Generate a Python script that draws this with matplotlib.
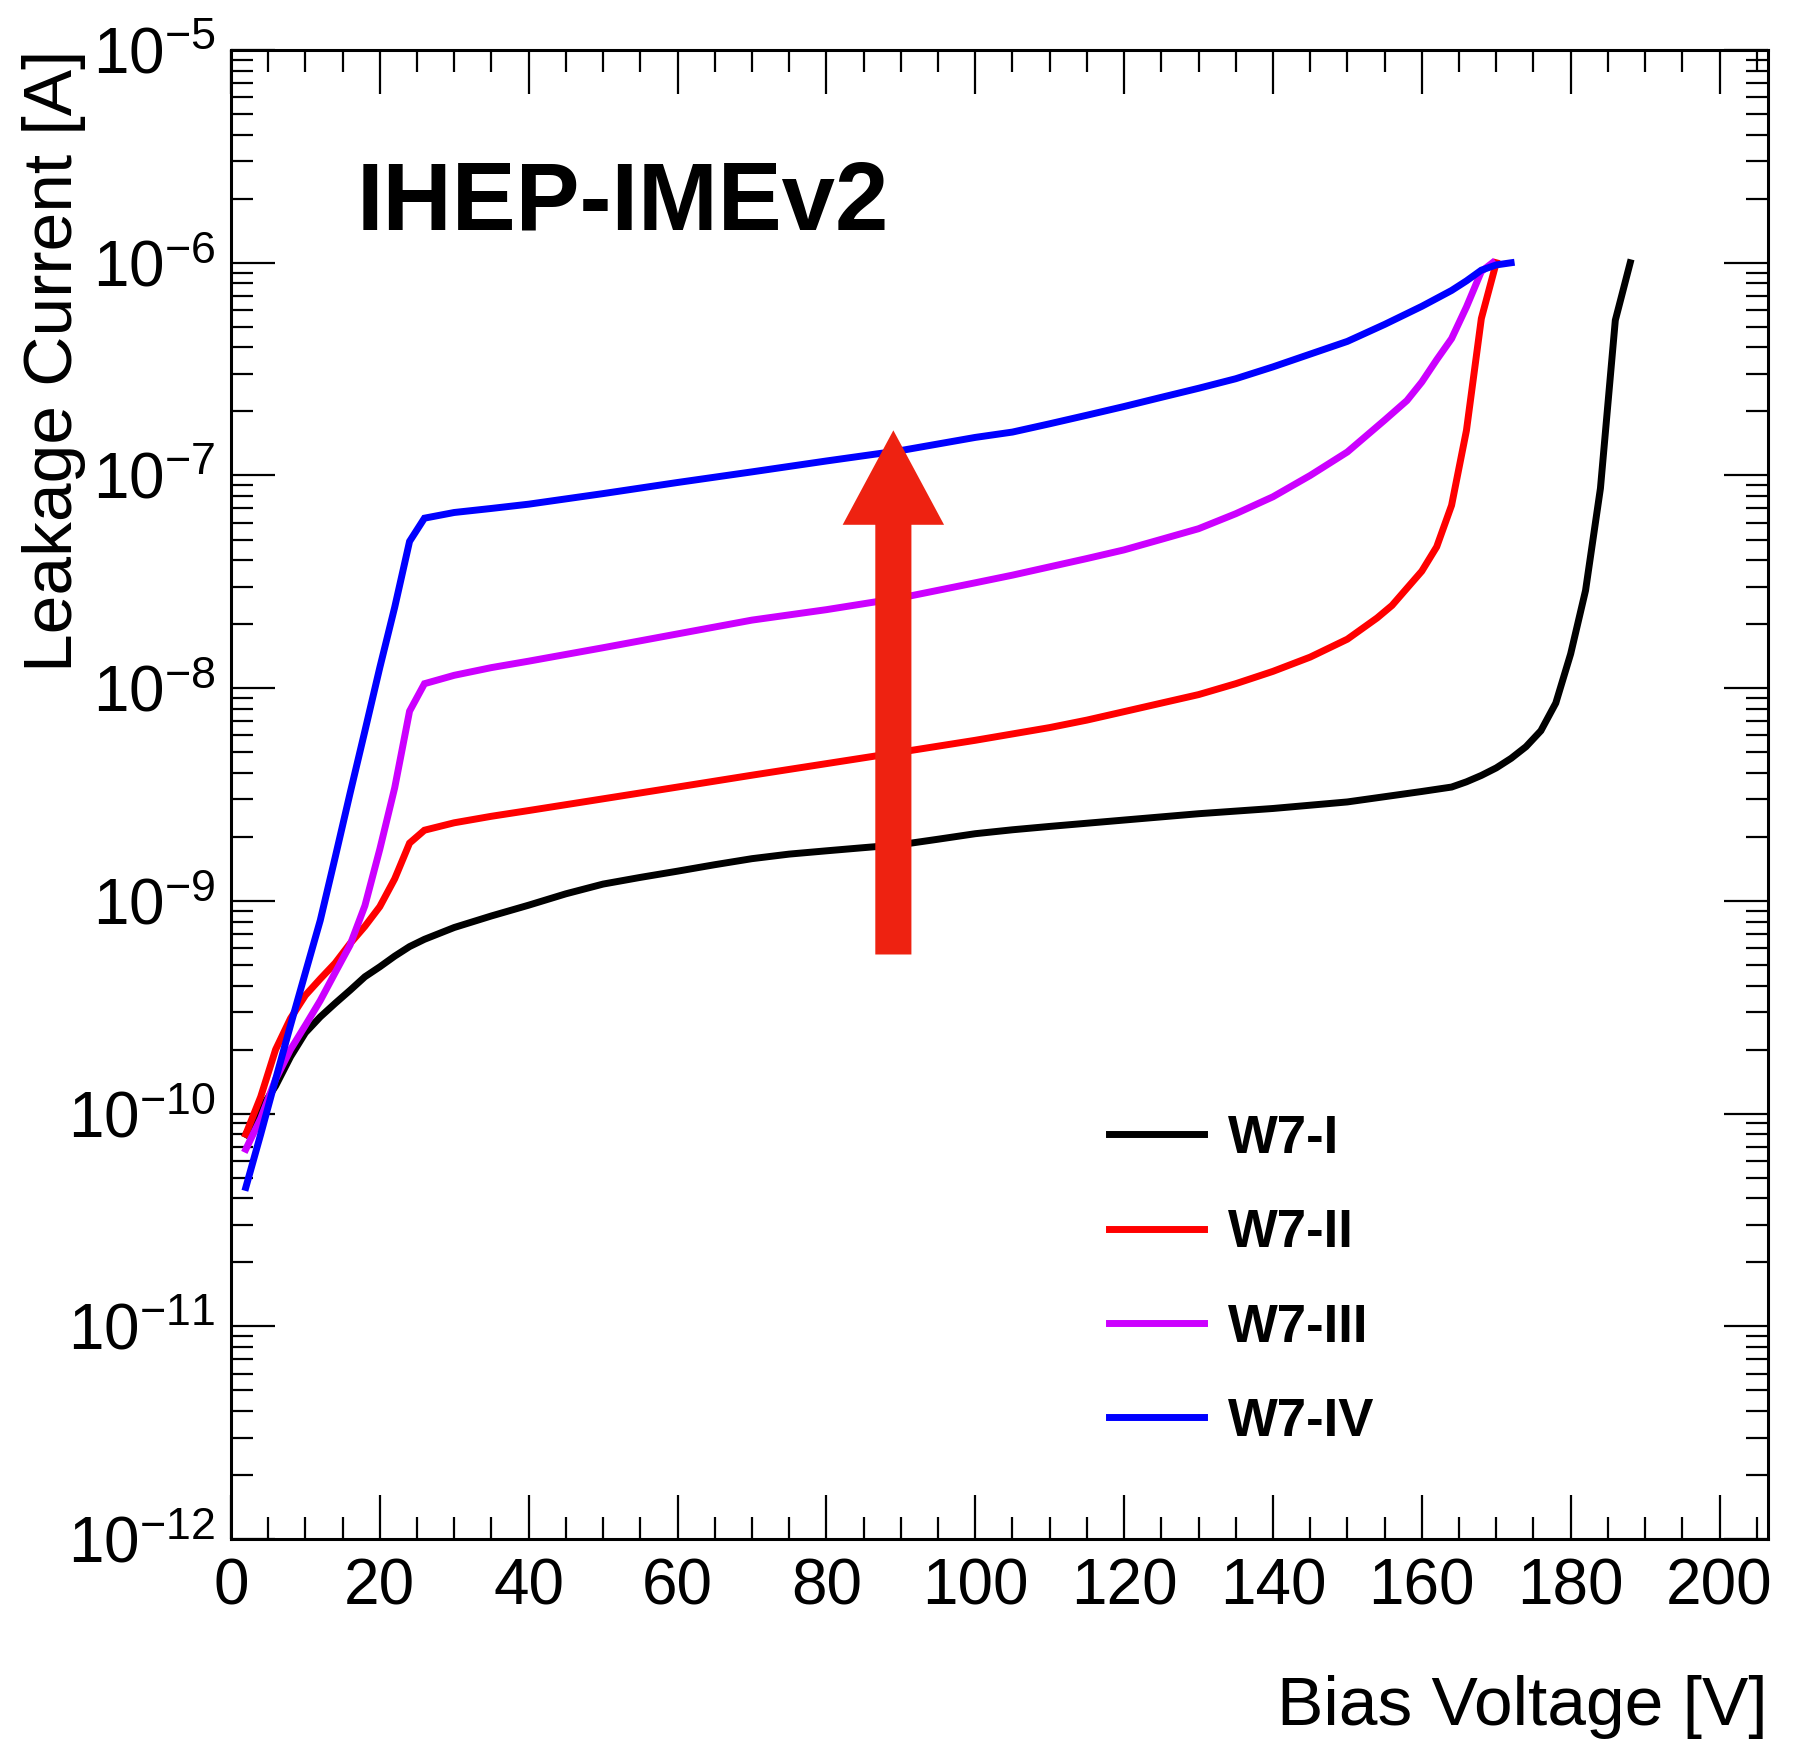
import numpy as np
import matplotlib
matplotlib.use("Agg")
import matplotlib.pyplot as plt
from matplotlib.patches import FancyArrowPatch
from matplotlib.ticker import MultipleLocator, LogLocator, NullFormatter

plt.rcParams["font.family"] = ["Liberation Sans", "DejaVu Sans"]
plt.rcParams["mathtext.fontset"] = "custom"
plt.rcParams["mathtext.rm"] = "Liberation Sans"
plt.rcParams["mathtext.it"] = "Liberation Sans:italic"
plt.rcParams["mathtext.bf"] = "Liberation Sans:bold"

# bias voltage [V] and leakage current [A] per sensor
v_w7_1 = [2, 4, 6, 8, 10, 12, 14, 16, 18, 20, 22, 24, 26, 30, 35, 40, 45, 50, 55, 60,
          65, 70, 75, 80, 85, 90, 95, 100, 105, 110, 120, 130, 140, 150, 155, 160,
          164, 166, 168, 170, 172, 174, 176, 178, 180, 182, 184, 186, 188]
i_w7_1 = [8e-11, 1.05e-10, 1.35e-10, 1.85e-10, 2.4e-10, 2.85e-10, 3.3e-10, 3.8e-10,
          4.4e-10, 4.9e-10, 5.5e-10, 6.1e-10, 6.6e-10, 7.5e-10, 8.5e-10, 9.55e-10,
          1.08e-9, 1.2e-9, 1.29e-9, 1.38e-9, 1.48e-9, 1.58e-9, 1.66e-9, 1.72e-9,
          1.78e-9, 1.84e-9, 1.95e-9, 2.07e-9, 2.16e-9, 2.24e-9, 2.4e-9, 2.57e-9,
          2.72e-9, 2.92e-9, 3.09e-9, 3.27e-9, 3.43e-9, 3.63e-9, 3.89e-9, 4.22e-9,
          4.68e-9, 5.31e-9, 6.31e-9, 8.51e-9, 1.45e-8, 2.88e-8, 8.7e-8, 5.37e-7, 1e-6]

v_w7_2 = [2, 4, 6, 8, 10, 12, 14, 16, 18, 20, 22, 24, 26, 30, 35, 40, 50, 60, 70, 80,
          90, 100, 110, 115, 120, 125, 130, 135, 140, 145, 150, 154, 156, 158, 160,
          162, 164, 166, 168, 170]
i_w7_2 = [8e-11, 1.2e-10, 2.0e-10, 2.8e-10, 3.6e-10, 4.3e-10, 5.1e-10, 6.3e-10,
          7.6e-10, 9.4e-10, 1.27e-9, 1.87e-9, 2.15e-9, 2.33e-9, 2.5e-9, 2.66e-9,
          3.02e-9, 3.43e-9, 3.9e-9, 4.42e-9, 5.01e-9, 5.69e-9, 6.53e-9, 7.08e-9,
          7.76e-9, 8.51e-9, 9.33e-9, 1.05e-8, 1.2e-8, 1.4e-8, 1.7e-8, 2.14e-8,
          2.45e-8, 2.95e-8, 3.55e-8, 4.62e-8, 7.24e-8, 1.63e-7, 5.47e-7, 1e-6]

v_w7_3 = [2, 4, 6, 8, 10, 12, 14, 16, 18, 20, 22, 24, 26, 30, 35, 40, 50, 60, 70, 80,
          90, 100, 105, 110, 115, 120, 125, 130, 135, 140, 145, 150, 155, 158, 160,
          162, 164, 166, 168, 169.5]
i_w7_3 = [6.8e-11, 9.5e-11, 1.45e-10, 2.0e-10, 2.6e-10, 3.4e-10, 4.6e-10, 6.2e-10,
          9.5e-10, 1.75e-9, 3.4e-9, 7.8e-9, 1.05e-8, 1.15e-8, 1.25e-8, 1.34e-8,
          1.55e-8, 1.8e-8, 2.09e-8, 2.34e-8, 2.66e-8, 3.13e-8, 3.4e-8, 3.72e-8,
          4.07e-8, 4.47e-8, 5.01e-8, 5.62e-8, 6.61e-8, 7.94e-8, 1.0e-7, 1.29e-7,
          1.82e-7, 2.25e-7, 2.75e-7, 3.5e-7, 4.4e-7, 6.2e-7, 9.1e-7, 1e-6]

v_w7_4 = [2, 4, 6, 8, 10, 12, 14, 16, 18, 20, 22, 24, 26, 30, 35, 40, 50, 60, 70, 80,
          90, 100, 105, 110, 115, 120, 125, 130, 135, 140, 145, 150, 155, 160, 164,
          166, 168, 170, 172]
i_w7_4 = [4.5e-11, 8.0e-11, 1.45e-10, 2.6e-10, 4.6e-10, 8.1e-10, 1.6e-9, 3.2e-9,
          6.3e-9, 1.25e-8, 2.4e-8, 4.9e-8, 6.3e-8, 6.7e-8, 7.0e-8, 7.33e-8, 8.22e-8,
          9.27e-8, 1.04e-7, 1.17e-7, 1.31e-7, 1.51e-7, 1.6e-7, 1.75e-7, 1.92e-7,
          2.11e-7, 2.33e-7, 2.57e-7, 2.85e-7, 3.24e-7, 3.72e-7, 4.27e-7, 5.13e-7,
          6.24e-7, 7.41e-7, 8.22e-7, 9.23e-7, 9.77e-7, 1e-6]

labels = ["W7-I", "W7-II", "W7-III", "W7-IV"]
colors = ["#000000", "#ff0000", "#cc00ff", "#0000ff"]
voltages = [v_w7_1, v_w7_2, v_w7_3, v_w7_4]
currents = [i_w7_1, i_w7_2, i_w7_3, i_w7_4]

fig = plt.figure(figsize=(17.93, 17.44), dpi=100)
ax = fig.add_axes([0.1288, 0.1175, 0.8572, 0.8538])

for v, i, c, lab in zip(voltages, currents, colors, labels):
    ax.plot(v, i, color=c, lw=5, label=lab, solid_joinstyle="miter")

ax.set_yscale("log")
ax.set_xlim(0, 206.5)
ax.set_ylim(1e-12, 1e-5)

ax.xaxis.set_major_locator(MultipleLocator(20))
ax.xaxis.set_minor_locator(MultipleLocator(5))
ax.yaxis.set_major_locator(LogLocator(base=10, numticks=20))
ax.yaxis.set_minor_locator(LogLocator(base=10, subs=np.arange(2, 10), numticks=100))
ax.yaxis.set_minor_formatter(NullFormatter())

ax.tick_params(which="both", direction="in", top=True, right=True, width=1.6)
ax.tick_params(which="major", length=32)
ax.tick_params(which="minor", length=16)
ax.tick_params(axis="x", labelsize=46, pad=13)
ax.tick_params(axis="y", labelsize=46, pad=11)
for sp in ax.spines.values():
    sp.set_linewidth(2.2)

ax.set_xlabel("Bias Voltage [V]", fontsize=50, ha="right", va="center")
ax.xaxis.set_label_coords(1.0, -0.1128)
ax.set_ylabel("Leakage Current [A]", fontsize=50, ha="right", va="center")
ax.yaxis.set_label_coords(-0.115, 1.0)

ax.text(0.082, 0.8798, "IHEP-IMEv2", transform=ax.transAxes, fontsize=69,
        fontweight="bold", va="baseline")

# arrow showing the trend
arrow = FancyArrowPatch((89, 5.6e-10), (89, 1.63e-7),
                        arrowstyle="simple,head_length=6.8,head_width=7.3,tail_width=2.6",
                        mutation_scale=10, color="#ee2211", lw=0,
                        shrinkA=0, shrinkB=0, zorder=3)
ax.add_patch(arrow)

ax.legend(loc="upper left", bbox_to_anchor=(0.571, 0.2855), frameon=False,
          prop={"weight": "bold", "size": 38}, handlelength=1.8,
          handletextpad=0.47, labelspacing=0.84, borderpad=0, borderaxespad=0)

fig.savefig("out.png", dpi=100)
